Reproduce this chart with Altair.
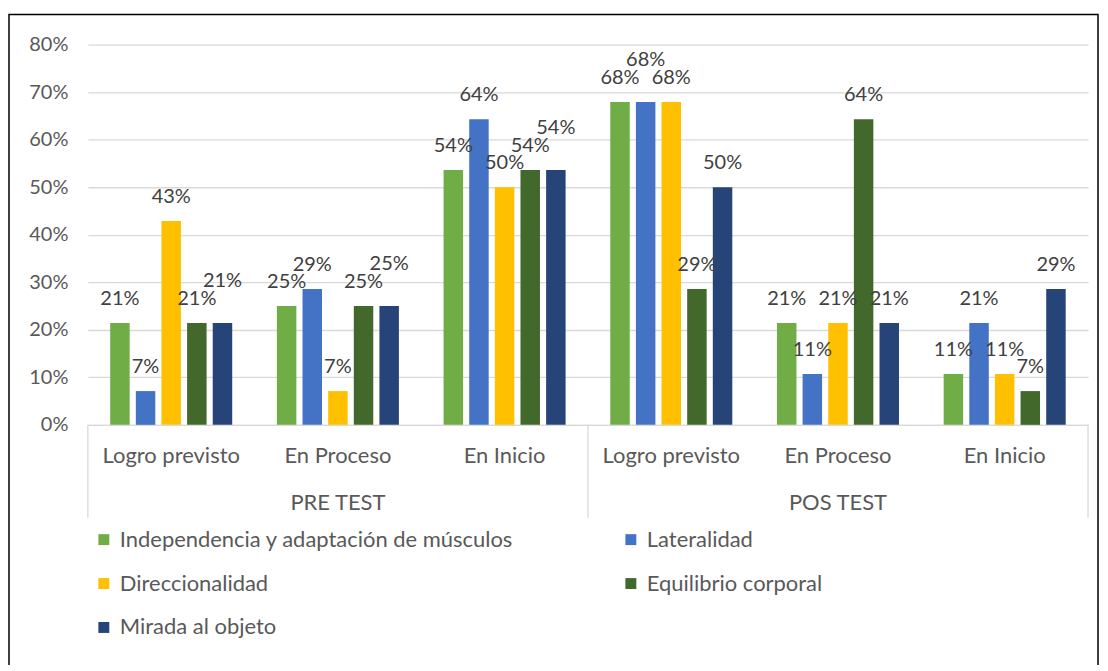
import altair as alt
import pandas as pd

tests = ["PRE TEST"] * 3 + ["POS TEST"] * 3
categories = ["Logro previsto", "En Proceso", "En Inicio"] * 2
series = [
    "Independencia y adaptación de músculos",
    "Lateralidad",
    "Direccionalidad",
    "Equilibrio corporal",
    "Mirada al objeto",
]
colors = ["#70AD47", "#4472C4", "#FFC000", "#43682B", "#264478"]

independencia = [0.214, 0.250, 0.536, 0.679, 0.214, 0.107]
lateralidad = [0.071, 0.286, 0.643, 0.679, 0.107, 0.214]
direccionalidad = [0.429, 0.071, 0.500, 0.679, 0.214, 0.107]
equilibrio = [0.214, 0.250, 0.536, 0.286, 0.643, 0.071]
mirada = [0.214, 0.250, 0.536, 0.500, 0.214, 0.286]

test_names = ["PRE TEST", "POS TEST"]

grupos = [f"{t}|{c}" for t, c in zip(tests, categories)]
all_vals = [independencia, lateralidad, direccionalidad, equilibrio, mirada]
rows = []
for gi, g in enumerate(grupos):
    prev_v, prev_lvl = None, 1
    for s, vals in zip(series, all_vals):
        v = vals[gi]
        # raise a label when it would collide with its left neighbour's label
        lvl = 1 if (prev_v is not None and prev_lvl == 0 and abs(v - prev_v) < 0.03) else 0
        rows.append({"grupo": g, "serie": s, "valor": v, "nivel": lvl})
        prev_v, prev_lvl = v, lvl
df = pd.DataFrame(rows)

W, H = 1002, 381
FONT = "Lato"
GRAY = "#d9d9d9"
TXT = "#595959"

x_scale = alt.Scale(paddingInner=0.268, paddingOuter=0.134)
off_scale = alt.Scale(paddingInner=0.24, paddingOuter=0)

x_enc = alt.X(
    "grupo:N", sort=grupos, scale=x_scale,
    axis=alt.Axis(title=None, labelExpr="split(datum.label, '|')[1]", labelAngle=0,
                  labelFontSize=22, labelColor=TXT, labelFont=FONT, labelPadding=21,
                  ticks=False, domainColor=GRAY, domainWidth=1.3),
)
xoff = alt.XOffset("serie:N", sort=series, scale=off_scale)
y_enc = alt.Y(
    "valor:Q", scale=alt.Scale(domain=[0, 0.8], nice=False),
    axis=alt.Axis(title=None, format=".0%", values=[0, 0.1, 0.2, 0.3, 0.4, 0.5, 0.6, 0.7, 0.8],
                  labelFontSize=20, labelColor=TXT, labelFont=FONT, labelPadding=20,
                  ticks=False, domain=False, gridColor=GRAY, gridWidth=1.3),
)
color = alt.Color(
    "serie:N", sort=series, scale=alt.Scale(domain=series, range=colors),
    legend=alt.Legend(title=None, orient="none", legendX=5, legendY=485, columns=2,
                      direction="horizontal", symbolType="square", symbolSize=120,
                      symbolStrokeWidth=0, labelFontSize=22, labelColor=TXT, labelFont=FONT,
                      labelOffset=5, rowPadding=22, columnPadding=106, labelLimit=600),
)

bars = alt.Chart(df).mark_bar().encode(x=x_enc, xOffset=xoff, y=y_enc, color=color)


def label_layer(level, dy):
    return alt.Chart(df).transform_filter(f"datum.nivel == {level}").mark_text(
        baseline="bottom", dy=dy, fontSize=20, color="#404040", font=FONT
    ).encode(
        x=alt.X("grupo:N", sort=grupos, scale=x_scale),
        xOffset=alt.XOffset("serie:N", sort=series, scale=off_scale),
        y=alt.Y("valor:Q"),
        text=alt.Text("valor:Q", format=".0%"),
    )


main = alt.layer(bars, label_layer(0, -14), label_layer(1, -32))

pos_scale = alt.Scale(domain=[0, 2], nice=False, zero=False)
sep_df = pd.DataFrame({"pos": [0, 1, 2]})
seps = alt.Chart(sep_df).mark_rule(color=GRAY, strokeWidth=1.3).encode(
    x=alt.X("pos:Q", scale=pos_scale, axis=None),
    y=alt.value(H), y2=alt.value(H + 93),
)
test_df = pd.DataFrame({"pos": [0.5, 1.5], "test": test_names})
test_labels = alt.Chart(test_df).mark_text(fontSize=22, color=TXT, font=FONT, baseline="middle").encode(
    x=alt.X("pos:Q", scale=pos_scale, axis=None),
    y=alt.value(H + 78),
    text="test:N",
)

frame = alt.Chart(pd.DataFrame({"k": [0]})).mark_rect(
    fill="white", fillOpacity=0, stroke="black", strokeWidth=1.5
).encode(x=alt.value(-79), x2=alt.value(1012), y=alt.value(-30), y2=alt.value(700))

chart = alt.layer(main, seps, test_labels, frame).resolve_scale(x="independent").properties(
    width=W, height=H,
    autosize=alt.AutoSizeParams(type="none"),
    padding={"left": 80, "top": 36, "right": 12, "bottom": 240},
).configure_view(stroke=None)

chart.save("out.html", embed_options={"renderer": "svg", "actions": False})
